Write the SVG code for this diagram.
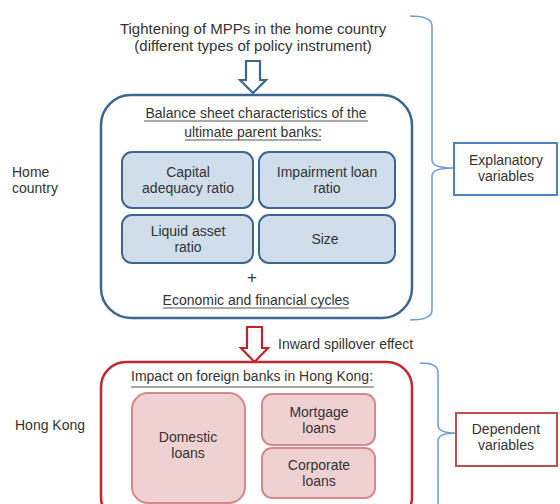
<svg xmlns="http://www.w3.org/2000/svg" width="560" height="504" viewBox="0 0 560 504">
<style>
text{font-family:"Liberation Sans",Arial,sans-serif;fill:#333;font-size:14px}
.c{text-anchor:middle}
.t{font-size:15px}
.bbox{fill:#cfdeea;stroke:#3d6591;stroke-width:2}
.rbox{fill:#efd1d1;stroke:#d48a8c;stroke-width:2}
.ul{stroke:#555;stroke-width:1}
.brace{fill:none;stroke:#6b9bd1;stroke-width:1.5}
</style>
<rect width="560" height="504" fill="#fff"/>
<g id="title">
<text class="c t" x="253" y="34">Tightening of MPPs in the home country</text>
<text class="c t" x="253" y="51">(different types of policy instrument)</text>
</g>
<g id="connectors">
<path d="M246,61 H260 V80 H266 L253,93 L240,80 H246 Z" fill="#fff" stroke="#3d6591" stroke-width="2.2" stroke-linejoin="miter"/>
<path d="M247,327 H262 V348 H268 L254.5,362 L241,348 H247 Z" fill="#fff" stroke="#b8252c" stroke-width="2.2"/>
<text x="278" y="349">Inward spillover effect</text>
<path class="brace" d="M410,16 Q432,16 432,26 L432,160 Q432,168 453,168 Q432,168 432,176 L432,310 Q432,320 410,320"/>
<path class="brace" d="M420,363 Q438,363 438,372 L438,425 Q438,433 456,433 Q438,433 438,441 L438,504"/>
</g>
<g id="home-box">
<rect x="101" y="95" width="311" height="223" rx="30" fill="#fff" stroke="#3d6591" stroke-width="2.5"/>
<text class="c" x="256" y="118">Balance sheet characteristics of the</text>
<text class="c" x="253" y="137">ultimate parent banks:</text>
<line class="ul" x1="144" y1="121" x2="368" y2="121"/>
<line class="ul" x1="185" y1="140" x2="321" y2="140"/>
<text class="c" x="252" y="283" style="font-size:17px">+</text>
<text class="c" x="256" y="305">Economic and financial cycles</text>
<line class="ul" x1="163" y1="308" x2="349" y2="308"/>
</g>
<g id="capital">
<rect class="bbox" x="122" y="152" width="131" height="56" rx="10"/>
<text class="c" x="188" y="177">Capital</text>
<text class="c" x="188" y="193">adequacy ratio</text>
</g>
<g id="impairment">
<rect class="bbox" x="259" y="152" width="136" height="56" rx="10"/>
<text class="c" x="327" y="177">Impairment loan</text>
<text class="c" x="327" y="193">ratio</text>
</g>
<g id="liquid">
<rect class="bbox" x="122" y="215" width="131" height="48" rx="10"/>
<text class="c" x="188" y="236">Liquid asset</text>
<text class="c" x="188" y="252">ratio</text>
</g>
<g id="size">
<rect class="bbox" x="259" y="215" width="136" height="48" rx="10"/>
<text class="c" x="325" y="244">Size</text>
</g>
<g id="home-label">
<text x="12" y="177">Home</text>
<text x="12" y="193">country</text>
</g>
<g id="hk-label">
<text x="15" y="430">Hong Kong</text>
</g>
<g id="explanatory">
<rect x="454" y="143" width="103" height="52" fill="#fff" stroke="#4f81bd" stroke-width="2"/>
<text class="c" x="506" y="165">Explanatory</text>
<text class="c" x="506" y="181">variables</text>
</g>
<g id="hk-box">
<rect x="101" y="362" width="311" height="160" rx="25" fill="#fff" stroke="#c0282e" stroke-width="2.5"/>
<text x="131" y="381">Impact on foreign banks in Hong Kong:</text>
<line class="ul" x1="131" y1="387" x2="374" y2="387"/>
</g>
<g id="domestic">
<rect class="rbox" x="132" y="393" width="113" height="110" rx="16"/>
<text class="c" x="188" y="442">Domestic</text>
<text class="c" x="188" y="458">loans</text>
</g>
<g id="mortgage">
<rect class="rbox" x="262" y="394" width="113" height="51" rx="10"/>
<text class="c" x="319" y="417">Mortgage</text>
<text class="c" x="319" y="433">loans</text>
</g>
<g id="corporate">
<rect class="rbox" x="262" y="448" width="113" height="50" rx="10"/>
<text class="c" x="319" y="470">Corporate</text>
<text class="c" x="319" y="486">loans</text>
</g>
<g id="dependent">
<rect x="456" y="413" width="101" height="53" fill="#fff" stroke="#c0504d" stroke-width="2"/>
<text class="c" x="506" y="434">Dependent</text>
<text class="c" x="506" y="450">variables</text>
</g>
</svg>
